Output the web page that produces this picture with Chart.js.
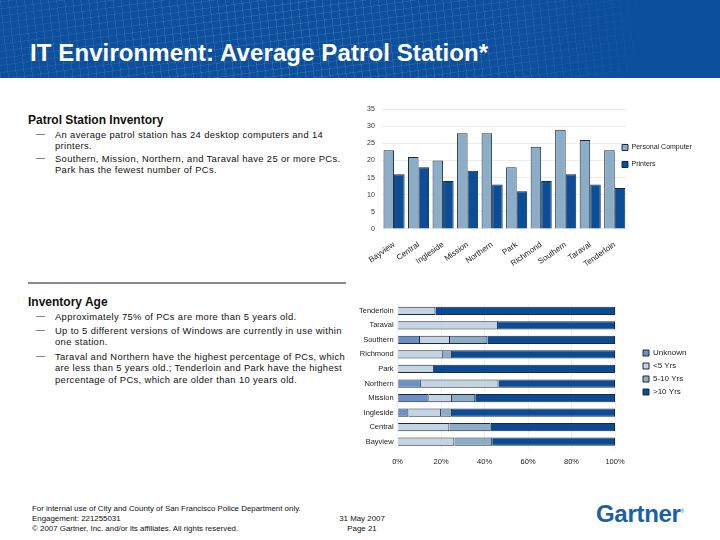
<!DOCTYPE html>
<html>
<head>
<meta charset="utf-8">
<script src="https://cdn.jsdelivr.net/npm/chart.js@4/dist/chart.umd.min.js"></script>
<style>
  body { margin: 0; width: 720px; height: 540px; position: relative; background: #fff;
         font-family: "Liberation Sans", Arial, sans-serif; color: #111; overflow: hidden; }
  #header { position: absolute; left: 0; top: 0; width: 720px; height: 78px; background: #0b4f9d; overflow: hidden; }
  #mesh { position: absolute; left: 0; top: 0; width: 720px; height: 78px;
          background:
            repeating-linear-gradient(84deg, rgba(255,255,255,0.12) 0 1px, transparent 1px 8px),
            repeating-linear-gradient(-8deg, rgba(255,255,255,0.10) 0 1px, transparent 1px 7px);
          -webkit-mask-image: linear-gradient(90deg, rgba(0,0,0,0.6) 0%, rgba(0,0,0,1) 40%, rgba(0,0,0,0.7) 70%, rgba(0,0,0,0) 92%);
          mask-image: linear-gradient(90deg, rgba(0,0,0,0.6) 0%, rgba(0,0,0,1) 40%, rgba(0,0,0,0.7) 70%, rgba(0,0,0,0) 92%); }
  #title { position: absolute; left: 30px; top: 39px; color: #fff; font-weight: bold; font-size: 24px; letter-spacing: 0.1px; }
  .head { position: absolute; left: 28px; font-weight: bold; font-size: 12px; }
  .item { position: absolute; left: 55px; width: 300px; font-size: 9.4px; letter-spacing: 0.35px; line-height: 11.4px; }
  .dash { position: absolute; left: 36px; font-size: 9px; line-height: 11.4px; }
  #sep { position: absolute; left: 28px; top: 282px; width: 318px; height: 2px; background: #8a8a8a; }
  .foot { position: absolute; font-size: 7.9px; line-height: 10px; }
  #logo { position: absolute; left: 596px; top: 500px; font-size: 24px; font-weight: bold; color: #1b5fa6; letter-spacing: -0.3px; }
  #logo sup { font-size: 5px; font-weight: normal; }
  canvas { position: absolute; }
</style>
</head>
<body>
<div id="header"><div id="mesh"></div><div id="title">IT Environment: Average Patrol Station*</div></div>

<div class="head" style="top:113px">Patrol Station Inventory</div>
<div class="dash" style="top:129px">—</div>
<div class="item" style="top:129px">An average patrol station has 24 desktop computers and 14 printers.</div>
<div class="dash" style="top:153px">—</div>
<div class="item" style="top:153px">Southern, Mission, Northern, and Taraval have 25 or more PCs. Park has the fewest number of PCs.</div>

<div id="sep"></div>

<div class="head" style="top:295px">Inventory Age</div>
<div class="dash" style="top:311px">—</div>
<div class="item" style="top:311px">Approximately 75% of PCs are more than 5 years old.</div>
<div class="dash" style="top:325px">—</div>
<div class="item" style="top:325px">Up to 5 different versions of Windows are currently in use within one station.</div>
<div class="dash" style="top:351px">—</div>
<div class="item" style="top:351px">Taraval and Northern have the highest percentage of PCs, which are less than 5 years old.; Tenderloin and Park have the highest percentage of PCs, which are older than 10 years old.</div>

<div class="foot" style="left:32px; top:504px">For internal use of City and County of San Francisco Police Department only.<br>Engagement: 221255031<br>© 2007 Gartner, Inc. and/or its affiliates. All rights reserved.</div>
<div class="foot" style="left:332px; top:514px; width:60px; text-align:center">31 May 2007<br>Page 21</div>
<div id="logo">Gartner<sup>®</sup></div>

<canvas id="chart1" width="365" height="182" style="left:355px; top:98px"></canvas>
<canvas id="chart2" width="365" height="179" style="left:355px; top:295px"></canvas>

<script>
// inventory per station
const stations = ['Bayview', 'Central', 'Ingleside', 'Mission', 'Northern', 'Park', 'Richmond', 'Southern', 'Taraval', 'Tenderloin'];
const personalComputers = [23, 21, 20, 28, 28, 18, 24, 29, 26, 23];
const printers = [16, 18, 14, 17, 13, 11, 14, 16, 13, 12];
const countTicks = [0, 5, 10, 15, 20, 25, 30, 35];

// age of PCs, percent of station total (top to bottom)
const ageStations = ['Tenderloin', 'Taraval', 'Southern', 'Richmond', 'Park', 'Northern', 'Mission', 'Ingleside', 'Central', 'Bayview'];
const unknownAge = [0, 0, 10.3, 0, 0, 10.7, 14.3, 5, 0, 0];
const under5 = [17.4, 46.2, 13.8, 20.8, 16.7, 35.7, 10.7, 15, 23.8, 26.1];
const fiveTo10 = [0, 0, 17.2, 4.2, 0, 0, 10.7, 5, 19, 17.4];
const over10 = [82.6, 53.8, 58.7, 75, 83.3, 53.6, 64.3, 75, 57.2, 56.5];
const pctTicks = [0, 20, 40, 60, 80, 100];

Chart.defaults.font.family = "'Liberation Sans', Arial, sans-serif";
Chart.defaults.color = '#222';

// puts the legend where the slide has it (just right of the plot)
const legendSpot = {
    id: 'legendSpot',
    afterLayout: function (chart, args, opts) {
        let lg = chart.legend;
        if (!lg) return;
        lg.left = opts.left;
        lg.right = opts.left + 120;
        lg.top = opts.top;
        lg.bottom = opts.top + 120;
    }
};

var ctx1 = document.getElementById('chart1').getContext('2d');
var chart1 = new Chart(ctx1, {
    type: 'bar',
    data: {
        labels: stations,
        datasets: [{
            label: 'Personal Computer',
            data: personalComputers,
            backgroundColor: '#8badc7',
            borderColor: '#1d2a38',
            borderWidth: 1
        }, {
            label: 'Printers',
            data: printers,
            backgroundColor: '#0b4d97',
            borderColor: '#0a2a50',
            borderWidth: 1
        }]
    },
    plugins: [legendSpot],
    options: {
        responsive: false,
        animation: false,
        devicePixelRatio: 1,
        layout: { padding: { left: 5, right: 92, top: 4, bottom: 0 } },
        datasets: { bar: { categoryPercentage: 0.86, barPercentage: 1.0 } },
        plugins: {
            legend: {
                position: 'right',
                align: 'start',
                maxWidth: 1,
                labels: { font: { size: 7 }, boxWidth: 6, boxHeight: 6, padding: 10, color: '#222' }
            },
            legendSpot: { left: 257, top: 36 },
            tooltip: { enabled: false }
        },
        scales: {
            x: {
                grid: { display: false, drawTicks: false },
                border: { display: false },
                ticks: { font: { size: 8 }, minRotation: 35, maxRotation: 35, padding: 11, color: '#222' }
            },
            y: {
                min: 0, max: 35,
                afterBuildTicks: function (axis) { axis.ticks = countTicks.map(function (v) { return { value: v }; }); },
                grid: { color: '#ececec', drawTicks: false },
                border: { display: false },
                ticks: { font: { size: 7 }, padding: 7, color: '#333' }
            }
        }
    }
});

var ctx2 = document.getElementById('chart2').getContext('2d');
var chart2 = new Chart(ctx2, {
    type: 'bar',
    data: {
        labels: ageStations,
        datasets: [
            { label: 'Unknown', data: unknownAge, backgroundColor: '#6d8fc8' },
            { label: '<5 Yrs', data: under5, backgroundColor: '#c4d4e2' },
            { label: '5-10 Yrs', data: fiveTo10, backgroundColor: '#8dadc6' },
            { label: '>10 Yrs', data: over10, backgroundColor: '#0b4a94' }
        ]
    },
    plugins: [legendSpot],
    options: {
        indexAxis: 'y',
        responsive: false,
        animation: false,
        devicePixelRatio: 1,
        layout: { padding: { left: 0, right: 104, top: 0, bottom: 0 } },
        datasets: { bar: { categoryPercentage: 0.57, barPercentage: 1.0, borderColor: '#1d2a38', borderWidth: 1 } },
        plugins: {
            legend: {
                position: 'right',
                align: 'start',
                maxWidth: 1,
                labels: { font: { size: 8 }, boxWidth: 6, boxHeight: 6, padding: 5, color: '#222' }
            },
            legendSpot: { left: 283, top: 49 },
            tooltip: { enabled: false }
        },
        scales: {
            x: {
                stacked: true,
                min: 0, max: 100,
                afterBuildTicks: function (axis) { axis.ticks = pctTicks.map(function (v) { return { value: v }; }); },
                grid: { color: '#f0f0f0', drawTicks: false },
                border: { display: false },
                ticks: { font: { size: 7.5 }, padding: 8, color: '#222', callback: function (v) { return v + '%'; } }
            },
            y: {
                stacked: true,
                grid: { display: false, drawTicks: false },
                border: { display: false },
                ticks: { font: { size: 7.5 }, padding: 4, color: '#222' }
            }
        }
    }
});
</script>
</body>
</html>
